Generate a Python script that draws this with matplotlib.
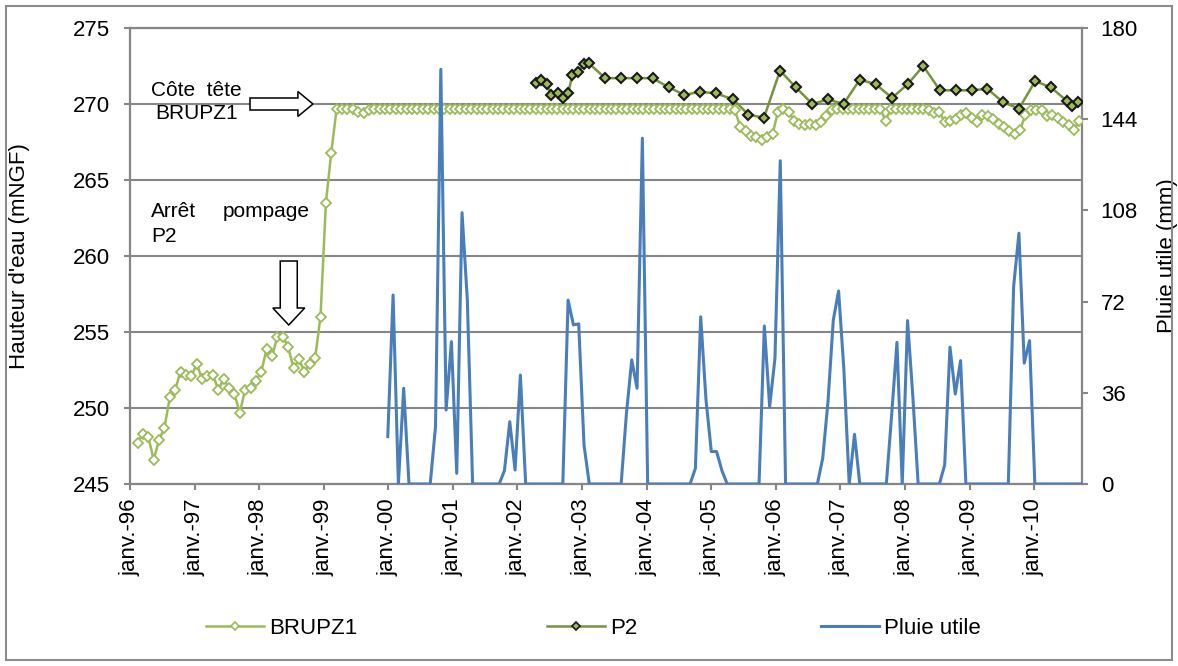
import numpy as np
import matplotlib
matplotlib.use("Agg")
import matplotlib.pyplot as plt
from matplotlib.patches import FancyArrow, Rectangle
from matplotlib.lines import Line2D

plt.rcParams['font.family'] = ['Liberation Sans', 'DejaVu Sans']

# x axis: months counted from janv. 1996
year_labels = ['janv.-96', 'janv.-97', 'janv.-98', 'janv.-99', 'janv.-00',
               'janv.-01', 'janv.-02', 'janv.-03', 'janv.-04', 'janv.-05',
               'janv.-06', 'janv.-07', 'janv.-08', 'janv.-09', 'janv.-10']

# BRUPZ1 piezometer, monthly readings from mid-Feb 1996 (mNGF)
brupz1_start = 1.4
brupz1_level = ([
    247.7, 248.3, 248.1, 246.6, 247.9, 248.7, 250.7, 251.2, 252.4, 252.2,
    252.1, 252.9, 251.9, 252.1, 252.2, 251.2, 251.9, 251.3, 250.9, 249.7,
    251.2, 251.3, 251.8, 252.4, 253.9, 253.4, 254.7, 254.7, 254.0, 252.6,
    253.2, 252.4, 252.9, 253.3, 256.0, 263.5, 266.8, 269.7, 269.7, 269.7,
    269.7, 269.5, 269.4, 269.6]
    + [269.7] * 67
    + [269.6, 268.5, 268.2, 267.9, 267.8, 267.6, 267.8, 268.0, 269.5, 269.7,
       269.5, 268.9, 268.7, 268.6, 268.7, 268.6, 268.8, 269.2, 269.6]
    + [269.7] * 9 + [268.9] + [269.7] * 6
    + [269.7, 269.6, 269.4, 269.5, 268.8, 268.9, 269.0, 269.3, 269.4, 269.1,
       268.8, 269.3, 269.2, 269.0, 268.7, 268.5, 268.2, 268.0, 268.3, 269.3,
       269.6, 269.6, 269.6, 269.2, 269.3, 269.1, 268.8, 268.6, 268.3, 268.9])

# P2 well (mNGF)
p2_months = [75.4, 76.4, 77.4, 78.3, 79.5, 80.4, 81.4, 82.2, 83.3, 84.3, 85.2,
             88.3, 91.2, 94.2, 97.1, 100.1, 103.0, 105.9, 108.9, 112.1, 114.9,
             117.8, 120.8, 123.7, 126.8, 129.7, 132.6, 135.6, 138.6, 141.6, 144.5,
             147.4, 150.5, 153.4, 156.4, 159.3, 162.3, 165.2, 168.2, 171.1, 174.1,
             175.1, 176.2]
p2_level = [271.4, 271.6, 271.3, 270.6, 270.7, 270.4, 270.7, 271.9, 272.1, 272.6, 272.7,
            271.7, 271.7, 271.7, 271.7, 271.1, 270.6, 270.8, 270.7, 270.3, 269.3,
            269.1, 272.2, 271.1, 270.0, 270.3, 270.0, 271.6, 271.3, 270.4, 271.3,
            272.5, 270.9, 270.9, 270.9, 271.0, 270.1, 269.7, 271.5, 271.1, 270.2,
            269.9, 270.1]

# effective rainfall, 30-day totals from janv. 2000 (mm)
rain_start = 47.9
rain_step = 30 / 30.44
rain_mm = [
    18.7, 74.6, 0, 37.8, 0, 0, 0, 0, 0, 22.6,
    163.7, 29.2, 56.2, 4.2, 107.1, 72.6, 0, 0, 0, 0,
    0, 0, 5.3, 24.6, 5.5, 43.0, 0, 0, 0, 0,
    0, 0, 0, 0, 72.6, 62.8, 63.2, 15.4, 0, 0,
    0, 0, 0, 0, 0, 27.9, 49.0, 37.8, 136.5, 0,
    0, 0, 0, 0, 0, 0, 0, 0, 6.2, 66.0,
    33.2, 12.8, 12.8, 5.3, 0, 0, 0, 0, 0, 0,
    0, 62.4, 30.5, 49.6, 127.6, 0, 0, 0, 0, 0,
    0, 0, 10.1, 32.5, 64.7, 76.2, 45.0, 0, 19.6, 0,
    0, 0, 0, 0, 0, 27.2, 55.9, 0, 64.5, 34.5,
    0, 0, 0, 0, 0, 7.5, 54.0, 35.5, 48.7, 0,
    0, 0, 0, 0, 0, 0, 0, 0, 77.9, 99.0,
    47.7, 56.6, 0, 0, 0, 0, 0, 0, 0, 0,
    0, 0]

GREEN = '#9BBB59'
DARK_GREEN = '#77933C'
BLUE = '#4A7EBB'
GRID = '#868686'

brupz1_x = brupz1_start + np.arange(len(brupz1_level))
rain_x = rain_start + np.arange(len(rain_mm)) * rain_step

fig = plt.figure(figsize=(11.78, 6.66), dpi=100)
ax = fig.add_axes([130 / 1178, 1 - 484 / 666, 952 / 1178, 456 / 666])

ax.plot(brupz1_x, brupz1_level, color=GREEN, lw=1.8, marker='D', ms=4.6,
        mfc='white', mec=GREEN, mew=1.3, zorder=3)
ax.plot(p2_months, p2_level, color=DARK_GREEN, lw=1.8, marker='D', ms=5,
        mfc=GREEN, mec='#1a1a1a', mew=1.5, zorder=4)

ax.set_xlim(0, 176.9)
ax.set_ylim(245, 275)
ax.set_yticks(range(245, 276, 5))
ax.set_xticks(np.arange(len(year_labels)) * 12)
ax.set_xticklabels(year_labels, rotation=90)
ax.yaxis.grid(True, color=GRID, lw=1.5)
ax.set_axisbelow(True)
for s in ax.spines.values():
    s.set_color(GRID)
    s.set_linewidth(1.6)
ax.tick_params(axis='y', length=4.5, width=1.5, color=GRID, pad=10, labelsize=16)
ax.tick_params(axis='x', length=4.5, width=1.5, color=GRID, pad=6, labelsize=16)
ax.set_ylabel("Hauteur d'eau (mNGF)", fontsize=16)
ax.yaxis.set_label_coords(-0.105, 0.5)

# annotations
ax.text(12.3, 270.9, 'Côte  tête', fontsize=15, ha='center', va='center')
ax.text(12.3, 269.4, 'BRUPZ1', fontsize=15, ha='center', va='center')
ax.add_patch(FancyArrow(22.3, 270, 11.7, 0, width=0.79, head_width=1.64,
                        head_length=2.8, length_includes_head=True,
                        fc='white', ec='black', lw=1.1, zorder=5))
ax.text(3.9, 262.95, 'Arrêt', fontsize=15, ha='left', va='center')
ax.text(33.4, 262.95, 'pompage', fontsize=15, ha='right', va='center')
ax.text(3.9, 261.3, 'P2', fontsize=15, ha='left', va='center')
ax.add_patch(FancyArrow(29.5, 259.67, 0, -4.21, width=3.16, head_width=5.94,
                        head_length=1.12, length_includes_head=True,
                        fc='white', ec='black', lw=1.1, zorder=5))

ax2 = ax.twinx()
ax2.plot(rain_x, rain_mm, color=BLUE, lw=2.2, zorder=3)
ax2.set_ylim(0, 180)
ax2.set_yticks(range(0, 181, 36))
for s in ax2.spines.values():
    s.set_visible(False)
ax2.tick_params(axis='y', length=4.5, width=1.5, color=GRID, pad=9, labelsize=16)
ax2.set_ylabel('Pluie utile (mm)', fontsize=16)
ax2.yaxis.set_label_coords(1.079, 0.5)

# legend entries spread along the bottom
entries = [
    (Line2D([], [], color=GREEN, lw=1.8, marker='D', ms=3.8, mfc='white', mec=GREEN, mew=1.2),
     'BRUPZ1', 206),
    (Line2D([], [], color=DARK_GREEN, lw=1.8, marker='D', ms=3.8, mfc=GREEN, mec='#1a1a1a', mew=1.2),
     'P2', 547),
    (Line2D([], [], color=BLUE, lw=2.2), 'Pluie utile', 821),
]
for handle, label, x0 in entries:
    leg = fig.legend([handle], [label], loc='center left',
                     bbox_to_anchor=(x0 / 1178, 1 - 628 / 666),
                     frameon=False, borderpad=0, borderaxespad=0,
                     handlelength=2.6, handletextpad=0.25, fontsize=16)

fig.add_artist(Rectangle((6 / 1178, 6 / 666), 1166 / 1178, 654 / 666,
                         transform=fig.transFigure, fill=False,
                         ec='#8c8c8c', lw=1.5))

fig.savefig('out.png', dpi=100)
